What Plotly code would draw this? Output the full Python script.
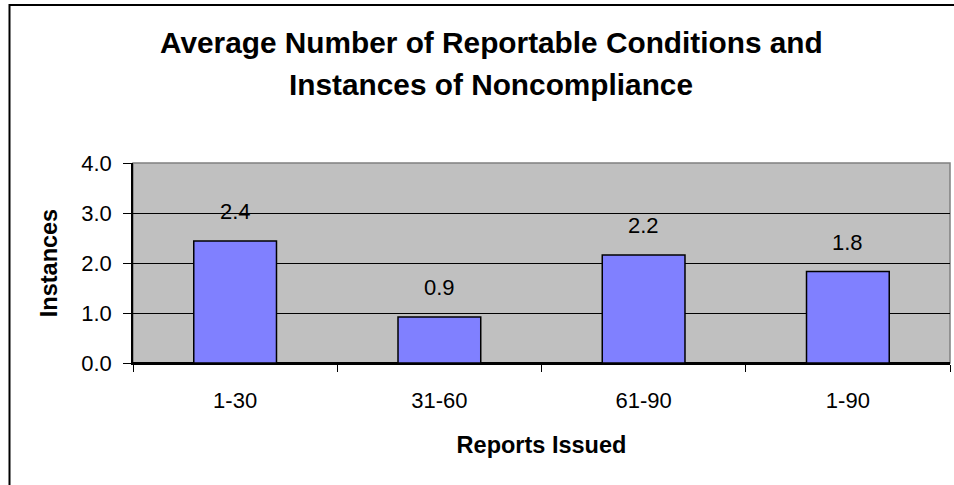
import plotly.graph_objects as go

categories = ["1-30", "31-60", "61-90", "1-90"]
values = [2.44, 0.92, 2.16, 1.83]
y_ticks = [0.0, 1.0, 2.0, 3.0, 4.0]
y_tick_labels = ["0.0", "1.0", "2.0", "3.0", "4.0"]
title_lines = ["Average Number of Reportable Conditions and", "Instances of Noncompliance"]
x_title = "Reports Issued"
y_title = "Instances"

FONT = "Arial, Liberation Sans, sans-serif"
W, H = 954, 485
L, R, T, B = 133, 4, 163, 122
pw = W - L - R
ph = H - T - B
TICK_SIZE = 22
AXT_SIZE = 23.5

fig = go.Figure()
fig.add_trace(go.Bar(
    x=categories, y=values,
    marker=dict(color="#8080FF", line=dict(color="black", width=1.5)),
    width=0.405,
    hoverinfo="skip",
))

annotations = []
for c, v in zip(categories, values):
    annotations.append(dict(
        x=c, y=v, xref="x", yref="y", text=f"{v:.1f}", showarrow=False,
        yanchor="bottom", yshift=15, font=dict(family=FONT, size=TICK_SIZE, color="black"),
    ))

def px2paper_x(px):
    return (px - L) / pw

def py2paper_y(py):
    return (H - B - py) / ph

for line, ypix in zip(title_lines, [43, 84]):
    annotations.append(dict(
        x=px2paper_x(491), y=py2paper_y(ypix), xref="paper", yref="paper",
        text=f"<b>{line}</b>", showarrow=False, xanchor="center", yanchor="middle",
        font=dict(family=FONT, size=29.8, color="black"),
    ))

shapes = [
    dict(type="rect", xref="paper", yref="paper",
         x0=px2paper_x(9.5), x1=px2paper_x(1000), y0=py2paper_y(5), y1=py2paper_y(600),
         line=dict(color="black", width=2), fillcolor="rgba(0,0,0,0)", layer="below"),
    dict(type="rect", xref="paper", yref="paper", x0=0, x1=1, y0=0, y1=1,
         line=dict(color="#808080", width=1.5), fillcolor="rgba(0,0,0,0)", layer="below"),
]

fig.update_layout(
    width=W, height=H,
    margin=dict(l=L, r=R, t=T, b=B, pad=0),
    paper_bgcolor="white",
    plot_bgcolor="#C0C0C0",
    showlegend=False,
    annotations=annotations,
    shapes=shapes,
    font=dict(family=FONT, color="black"),
)
fig.update_xaxes(
    type="category", tickson="boundaries", ticks="outside", ticklen=7,
    tickcolor="black", tickwidth=1, showgrid=False,
    showline=True, linecolor="black", linewidth=1.5,
    tickfont=dict(family=FONT, size=TICK_SIZE), ticklabelstandoff=17,
    title=dict(text=f"<b>{x_title}</b>", font=dict(family=FONT, size=AXT_SIZE), standoff=24),
    range=[-0.5, 3.5],
)
fig.update_yaxes(
    range=[0, 4], tickvals=y_ticks, ticktext=y_tick_labels,
    ticks="outside", ticklen=8, tickcolor="black", tickwidth=1,
    showgrid=True, gridcolor="black", gridwidth=1,
    showline=True, linecolor="black", linewidth=1.5,
    zeroline=True, zerolinecolor="black", zerolinewidth=1.5,
    tickfont=dict(family=FONT, size=TICK_SIZE), ticklabelstandoff=7,
    title=dict(text=f"<b>{y_title}</b>", font=dict(family=FONT, size=AXT_SIZE), standoff=17),
)

fig.write_html(
    "out.html",
    config={"displayModeBar": False},
    post_script="document.body.style.margin='0';document.body.style.overflow='hidden';",
)
